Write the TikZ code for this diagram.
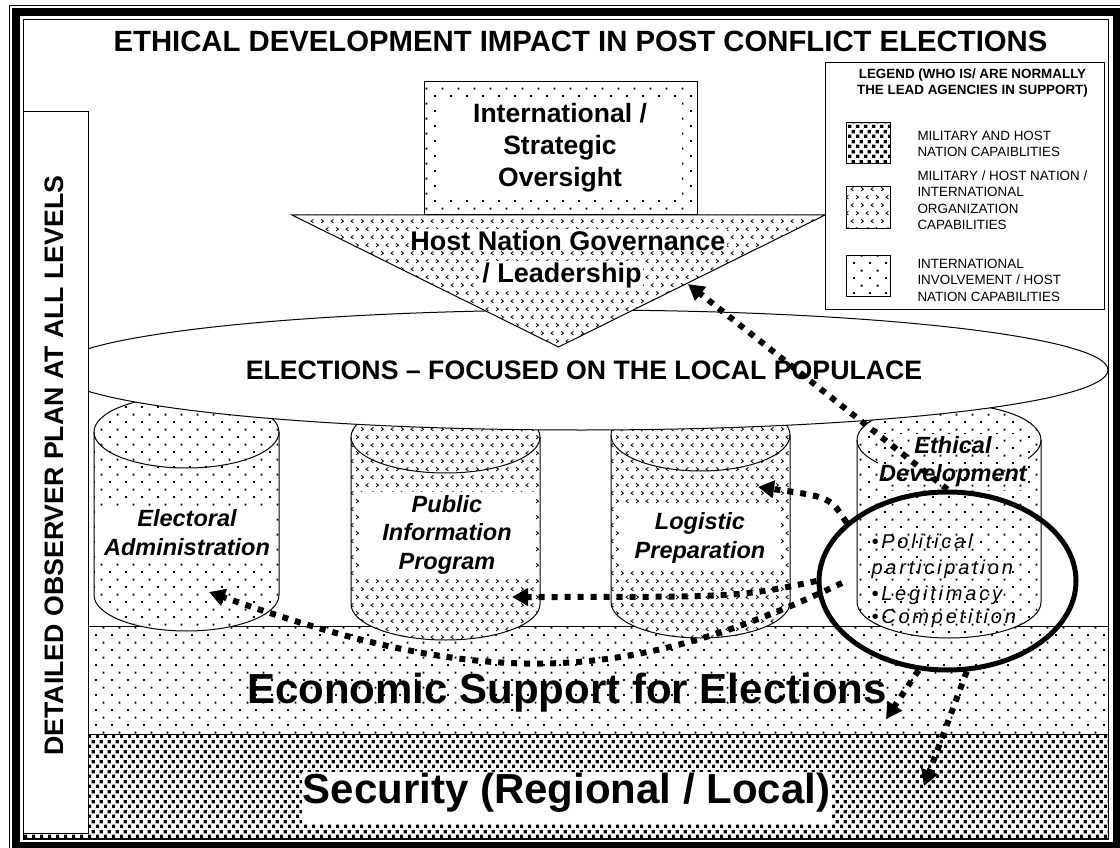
\documentclass[tikz,border=0pt]{standalone}
\usepackage{fontspec}
\setmainfont{Liberation Sans}
\newfontfamily\spacedfont{Liberation Sans}[LetterSpace=14]
\usetikzlibrary{patterns,shapes.geometric,arrows.meta}

\pgfdeclarepatternformonly{fewdots}{\pgfqpoint{0pt}{0pt}}{\pgfqpoint{15.5pt}{15.4pt}}{\pgfqpoint{15.5pt}{15.4pt}}{%
  \pgfpathrectangle{\pgfqpoint{0pt}{0pt}}{\pgfqpoint{2pt}{2pt}}%
  \pgfpathrectangle{\pgfqpoint{7.75pt}{7.7pt}}{\pgfqpoint{2pt}{2pt}}%
  \pgfusepath{fill}%
}
\pgfdeclarepatternformonly{densedots}{\pgfqpoint{0pt}{0pt}}{\pgfqpoint{8pt}{10pt}}{\pgfqpoint{8pt}{10pt}}{%
  \pgfpathrectangle{\pgfqpoint{0pt}{0pt}}{\pgfqpoint{3.6pt}{3.6pt}}%
  \pgfpathrectangle{\pgfqpoint{4pt}{5pt}}{\pgfqpoint{3.6pt}{3.6pt}}%
  \pgfusepath{fill}%
}
\pgfdeclarepatternformonly{chevrons}{\pgfqpoint{-1pt}{-1pt}}{\pgfqpoint{21pt}{17pt}}{\pgfqpoint{20pt}{16pt}}{%
  \pgfsetlinewidth{0.8pt}%
  \pgfpathmoveto{\pgfqpoint{1pt}{1pt}}\pgfpathlineto{\pgfqpoint{3.5pt}{2.8pt}}\pgfpathlineto{\pgfqpoint{1pt}{4.6pt}}%
  \pgfpathmoveto{\pgfqpoint{13.5pt}{1pt}}\pgfpathlineto{\pgfqpoint{11pt}{2.8pt}}\pgfpathlineto{\pgfqpoint{13.5pt}{4.6pt}}%
  \pgfpathmoveto{\pgfqpoint{8.5pt}{9pt}}\pgfpathlineto{\pgfqpoint{6pt}{10.8pt}}\pgfpathlineto{\pgfqpoint{8.5pt}{12.6pt}}%
  \pgfpathmoveto{\pgfqpoint{16pt}{9pt}}\pgfpathlineto{\pgfqpoint{18.5pt}{10.8pt}}\pgfpathlineto{\pgfqpoint{16pt}{12.6pt}}%
  \pgfusepath{stroke}%
}

\begin{document}
\begin{tikzpicture}[x=1pt, y=-1pt, line width=1pt,
  whitepat/.style={preaction={fill=white}, pattern=#1},
  dotarrow/.style={line width=6pt, dash pattern=on 6pt off 7pt, -{Triangle[length=16pt,width=17pt]}},
  bigbold/.style={font={\fontsize{42}{48}\selectfont\bfseries}},
  cyltext/.style={align=center, inner sep=3pt, font={\fontsize{23.5}{28.5}\selectfont\bfseries\itshape}},
  legtext/.style={align=left, anchor=north west, inner sep=0pt, font={\fontsize{13.4}{16.5}\selectfont}},
  bullet/.style={anchor=base west, inner sep=0pt, font={\fontsize{20}{24}\selectfont\spacedfont\itshape}}]
    \useasboundingbox (0,0) rectangle (1120,848);
    \draw[line width=8pt] (16,12) rectangle (1117,846);
    \draw (9,6) rectangle (1125,852);
    \draw (23,20) rectangle (1108,839);

    \draw[whitepat=fewdots] (23,626) rectangle (1108,734);
    \draw[whitepat=densedots] (23,734) rectangle (1108,838);

    \draw[whitepat=fewdots] (94,432) -- (94,595) arc[start angle=180, end angle=360, x radius=92.5pt, y radius=36pt] -- (279,432) arc[start angle=0, end angle=180, x radius=92.5pt, y radius=36pt] -- cycle;
    \draw (94,432) arc[start angle=180, end angle=360, x radius=92.5pt, y radius=36pt];
    \draw[whitepat=chevrons] (351,437) -- (351,604) arc[start angle=180, end angle=360, x radius=94.5pt, y radius=36pt] -- (540,437) arc[start angle=0, end angle=180, x radius=94.5pt, y radius=36pt] -- cycle;
    \draw (351,437) arc[start angle=180, end angle=360, x radius=94.5pt, y radius=36pt];
    \draw[whitepat=chevrons] (611,435) -- (611,602) arc[start angle=180, end angle=360, x radius=89.5pt, y radius=36pt] -- (790,435) arc[start angle=0, end angle=180, x radius=89.5pt, y radius=36pt] -- cycle;
    \draw (611,435) arc[start angle=180, end angle=360, x radius=89.5pt, y radius=36pt];
    \draw[whitepat=fewdots] (857,440) -- (857,602) arc[start angle=180, end angle=360, x radius=92pt, y radius=36pt] -- (1041,440) arc[start angle=0, end angle=180, x radius=92pt, y radius=36pt] -- cycle;
    \draw (857,440) arc[start angle=180, end angle=360, x radius=92pt, y radius=36pt];

    \draw[fill=white] (581,370) ellipse[x radius=527pt, y radius=60pt];
    \draw[whitepat=fewdots] (424,82) rectangle (697,215);
    \draw[whitepat=chevrons] (292,215) -- (825,215) -- (558.5,347) -- cycle;
    \draw[fill=white] (23,112) rectangle (88,833);

    \draw[fill=white] (825,63) rectangle (1104,309);
    \draw[pattern=densedots] (846,123) rectangle (890,164);
    \draw[pattern=chevrons] (846,187) rectangle (890,228);
    \draw[pattern=fewdots] (846,255) rectangle (890,296);

    \node[anchor=base, font={\fontsize{29.3}{34}\selectfont\bfseries}] (title) at (580.5,52) {ETHICAL DEVELOPMENT IMPACT IN POST CONFLICT ELECTIONS};
    \node[rotate=90, font={\fontsize{26.7}{32}\selectfont\bfseries}] (plan) at (54,465.5) {DETAILED OBSERVER PLAN AT ALL LEVELS};
    \node[fill=white, align=center, minimum width=243, minimum height=96, font={\fontsize{26.5}{32}\selectfont\bfseries}] (oversight) at (560,147.3) {International /\\Strategic\\Oversight};
    \node[anchor=base, fill=white, inner sep=1pt, font={\fontsize{27}{32}\selectfont\bfseries}] (hostnation) at (568,250) {Host Nation Governance};
    \node[anchor=base, fill=white, inner sep=1pt, font={\fontsize{27}{32}\selectfont\bfseries}] (leadership) at (562,282) {/ Leadership};
    \node[anchor=base, font={\fontsize{26.7}{32}\selectfont\bfseries}] (elections) at (584,379) {ELECTIONS – FOCUSED ON THE LOCAL POPULACE};

    \node[cyltext, fill=white, minimum width=176] (electoral) at (187,532.6) {Electoral\\Administration};
    \node[cyltext, fill=white, minimum width=174] (pubinfo) at (447,534.5) {Public\\Information\\Program};
    \node[cyltext, fill=white, minimum width=160, inner ysep=6pt] (logistic) at (700,538) {Logistic\\Preparation};
    \node[cyltext, whitepat=fewdots, inner xsep=1pt] (ethical) at (953,461.5) {Ethical\\Development};
    \node[bullet] (political) at (871,548) {•Political};
    \node[bullet] (particip) at (871,574) {participation};
    \node[bullet] (legitimacy) at (871,600) {•Legitimacy};
    \node[bullet] (competition) at (871,623) {•Competition};

    \node[anchor=base, bigbold] (economic) at (567,703) {Economic Support for Elections};
    \node[anchor=base, fill=white, inner xsep=1pt, inner ysep=0pt, text height=31pt, text depth=21pt, bigbold] (security) at (566.5,803) {Security (Regional / Local)};

    \node[align=center, font={\fontsize{13.4}{16}\selectfont\bfseries}] (legendhead) at (972.5,83.5) {LEGEND (WHO IS/ ARE NORMALLY\\THE LEAD AGENCIES IN SUPPORT)};
    \node[legtext] (legmil) at (917,130.4) {MILITARY AND HOST\\NATION CAPAIBLITIES};
    \node[legtext] (legmix) at (917,170.2) {MILITARY / HOST NATION /\\INTERNATIONAL\\ORGANIZATION\\CAPABILITIES};
    \node[legtext] (legintl) at (917,258.4) {INTERNATIONAL\\INVOLVEMENT / HOST\\NATION CAPABILITIES};

    \node[draw, ellipse, line width=5pt, minimum width=257, minimum height=178, inner sep=0pt] (focus) at (947.5,581) {};
    \coordinate (tipGov) at (688,284);
    \coordinate (tipLog) at (758,487);
    \coordinate (tipPub) at (512,597);
    \coordinate (tipElect) at (209,592);
    \coordinate (tipEcon) at (886,719);
    \coordinate (tipSec) at (924,786);
    \coordinate (srcElect) at (842,583);

    \draw[dotarrow] (focus.north) -- (tipGov);
    \draw[dotarrow] (focus.150) .. controls (830,497) .. (tipLog);
    \draw[dotarrow] (focus.west) .. controls (740,597) .. (tipPub);
    \draw[dotarrow] (srcElect) .. controls (620,688) and (480,688) .. (tipElect);
    \draw[dotarrow] (focus.252) -- (tipEcon);
    \draw[dotarrow] (focus.282) -- (tipSec);
\end{tikzpicture}
\end{document}
